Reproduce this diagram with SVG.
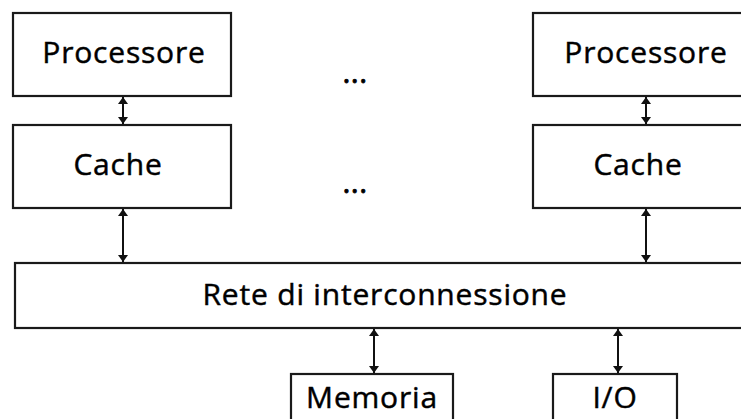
<svg xmlns="http://www.w3.org/2000/svg" width="741" height="419" viewBox="0 0 741 419">
<style>
.box{fill:#fff;stroke:#1a1a1a;stroke-width:2.2}
.lbl{font-family:"Open Sans","Liberation Sans",sans-serif;font-size:30px;fill:#000;stroke:#000;stroke-width:0.45;text-anchor:middle;letter-spacing:0.8px}
.dot{font-family:"Open Sans","Liberation Sans",sans-serif;font-size:30px;fill:#000;stroke:#000;stroke-width:0.8;text-anchor:middle;letter-spacing:0.5px}
.conn{stroke:#111;stroke-width:2;fill:none;marker-start:url(#ah);marker-end:url(#ah)}
</style>
<defs>
<marker id="ah" viewBox="0 0 10 10" refX="10" refY="5" markerWidth="7" markerHeight="10" markerUnits="userSpaceOnUse" orient="auto-start-reverse" preserveAspectRatio="none">
<path d="M0,0 L10,5 L0,10 z" fill="#111"/>
</marker>
</defs>
<rect width="741" height="419" fill="#fff"/>
<g id="proc1"><rect class="box" x="13" y="13" width="218" height="83"/><text class="lbl" x="124" y="63">Processore</text></g>
<g id="proc2"><rect class="box" x="533" y="13" width="224" height="83"/><text class="lbl" x="646" y="63">Processore</text></g>
<g id="cache1"><rect class="box" x="13" y="125" width="218" height="83"/><text class="lbl" x="118" y="175">Cache</text></g>
<g id="cache2"><rect class="box" x="533" y="125" width="224" height="83"/><text class="lbl" x="638" y="175">Cache</text></g>
<g id="rete"><rect class="box" x="15" y="263" width="740" height="65"/><text class="lbl" x="385" y="305">Rete di interconnessione</text></g>
<g id="memoria"><rect class="box" x="291" y="374" width="162" height="60"/><text class="lbl" x="372" y="408">Memoria</text></g>
<g id="io"><rect class="box" x="553" y="374" width="124" height="60"/><text class="lbl" x="615" y="408">I/O</text></g>
<g id="dots"><text class="dot" x="355" y="83">...</text><text class="dot" x="355" y="193">...</text></g>
<g id="connectors">
<line class="conn" x1="123" y1="97" x2="123" y2="124"/>
<line class="conn" x1="646" y1="97" x2="646" y2="124"/>
<line class="conn" x1="123" y1="209" x2="123" y2="262"/>
<line class="conn" x1="646" y1="209" x2="646" y2="262"/>
<line class="conn" x1="374" y1="329" x2="374" y2="373"/>
<line class="conn" x1="618" y1="329" x2="618" y2="373"/>
</g>
</svg>
